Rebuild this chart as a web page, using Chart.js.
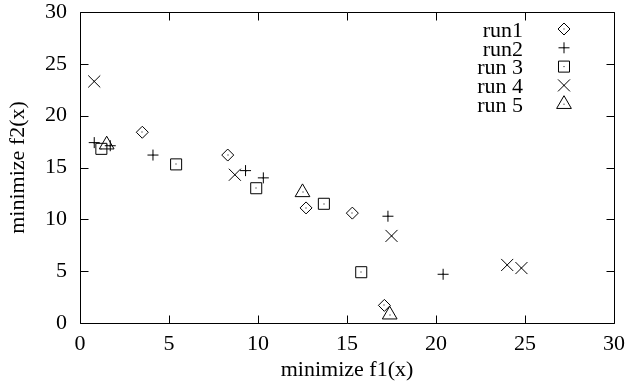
<!DOCTYPE html>
<html>
<head>
<meta charset="utf-8">
<script src="https://cdn.jsdelivr.net/npm/chart.js@4"></script>
<style>
  html, body { margin: 0; padding: 0; background: #fff; }
  #wrap { width: 628px; height: 387px; }
</style>
</head>
<body>
<div id="wrap"><canvas id="chart"></canvas></div>
<script>
var run1X = [3.5, 8.3, 12.7, 15.3, 17.1];
var run1Y = [18.4, 16.2, 11.1, 10.6, 1.7];
var run2X = [0.8, 1.7, 4.1, 9.3, 10.3, 17.3, 20.4];
var run2Y = [17.4, 17.1, 16.2, 14.7, 14.0, 10.3, 4.7];
var run3X = [1.2, 5.4, 9.9, 13.7, 15.8];
var run3Y = [16.8, 15.3, 13.0, 11.5, 4.9];
var run4X = [0.8, 8.7, 17.5, 24.0, 24.8];
var run4Y = [23.3, 14.3, 8.4, 5.6, 5.3];
var run5X = [1.5, 12.5, 17.4];
var run5Y = [17.2, 12.6, 0.8];

var runNames = ['run1', 'run2', 'run 3', 'run 4', 'run 5'];
var runStyles = ['rectRot', 'cross', 'rect', 'crossRot', 'triangle'];
var runSizes = [6, 5.5, 7.8, 8.5, 8.5];
var tickValues = [0, 5, 10, 15, 20, 25, 30];

var font = { family: "'Liberation Serif', 'Times New Roman', serif", size: 22 };

function pts(xs, ys) {
    return xs.map(function(x, i) { return { x: x, y: ys[i] }; });
}

var series = [pts(run1X, run1Y), pts(run2X, run2Y), pts(run3X, run3Y), pts(run4X, run4Y), pts(run5X, run5Y)];

var datasets = series.map(function(d, i) {
    return {
        label: runNames[i],
        data: d,
        pointStyle: runStyles[i],
        pointRadius: runSizes[i],
        pointHoverRadius: runSizes[i],
        pointBorderColor: '#000',
        pointBackgroundColor: 'rgba(0,0,0,0)',
        pointBorderWidth: 1,
        showLine: false
    };
});

// frame, inward ticks, center dots and the gnuplot style key
var gnuplotLook = {
    id: 'gnuplotLook',
    afterDatasetsDraw: function(chart) {
        var ctx = chart.ctx;
        var a = chart.chartArea;
        var xs = chart.scales.x, ys = chart.scales.y;
        ctx.save();
        ctx.fillStyle = '#000';
        chart.data.datasets.forEach(function(ds, i) {
            chart.getDatasetMeta(i).data.forEach(function(el) {
                ctx.fillRect(Math.round(el.x) - 0.5, Math.round(el.y) - 0.5, 1, 1);
            });
        });

        ctx.strokeStyle = '#000';
        ctx.lineWidth = 1;
        var L = Math.round(a.left) + 0.5, R = Math.round(a.right) + 0.5;
        var T = Math.round(a.top) + 0.5, B = Math.round(a.bottom) + 0.5;
        ctx.beginPath();
        ctx.rect(L, T, R - L, B - T);
        tickValues.forEach(function(v) {
            var px = Math.round(xs.getPixelForValue(v)) + 0.5;
            ctx.moveTo(px, B); ctx.lineTo(px, B - 8);
            ctx.moveTo(px, T); ctx.lineTo(px, T + 8);
            var py = Math.round(ys.getPixelForValue(v)) + 0.5;
            ctx.moveTo(L, py); ctx.lineTo(L + 8, py);
            ctx.moveTo(R, py); ctx.lineTo(R - 8, py);
        });
        ctx.stroke();

        // key
        ctx.font = font.size + 'px ' + font.family;
        ctx.textAlign = 'right';
        ctx.textBaseline = 'middle';
        for (var i = 0; i < runNames.length; i++) {
            var y = 29 + i * 18.8;
            ctx.fillStyle = '#000';
            ctx.fillText(runNames[i], 523, y + 2);
            ctx.fillRect(563.5, y - 0.5, 1, 1);
            ctx.fillStyle = 'rgba(0,0,0,0)';
            Chart.helpers.drawPoint(ctx, {
                pointStyle: runStyles[i],
                radius: runSizes[i],
                borderWidth: 1,
                rotation: 0
            }, 564, y);
        }
        ctx.restore();
    }
};

var ctx = document.getElementById('chart').getContext('2d');

var chart = new Chart(ctx, {
    type: 'scatter',
    data: { datasets: datasets },
    options: {
        responsive: true,
        maintainAspectRatio: false,
        animation: false,
        layout: { padding: { top: 12, right: 14, left: 0, bottom: 0 } },
        plugins: {
            legend: { display: false },
            tooltip: { enabled: false }
        },
        scales: {
            x: {
                type: 'linear',
                min: 0,
                max: 30,
                grid: { display: false, drawTicks: false },
                border: { display: false },
                ticks: { stepSize: 5, color: '#000', font: font, padding: 8, maxRotation: 0 },
                title: { display: true, text: 'minimize f1(x)', color: '#000', font: font, padding: { top: 0, bottom: 4 } },
                afterFit: function(s) { s.height = 64; s.paddingLeft = 0; s.paddingRight = 0; }
            },
            y: {
                type: 'linear',
                min: 0,
                max: 30,
                grid: { display: false, drawTicks: false },
                border: { display: false },
                ticks: { stepSize: 5, color: '#000', font: font, padding: 13 },
                title: { display: true, text: 'minimize f2(x)', color: '#000', font: font, padding: { top: 5, bottom: 0 } },
                afterFit: function(s) { s.width = 80; s.paddingTop = 0; s.paddingBottom = 0; }
            }
        }
    },
    plugins: [gnuplotLook]
});
</script>
</body>
</html>
